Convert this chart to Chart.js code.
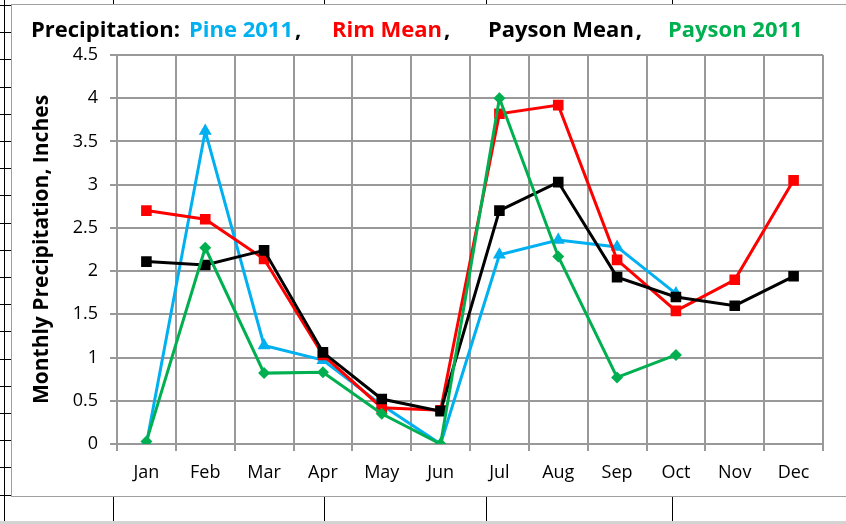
<!DOCTYPE html>
<html>
<head>
<meta charset="utf-8">
<script src="https://cdn.jsdelivr.net/npm/chart.js@4"></script>
<style>
  html, body { margin: 0; padding: 0; background: #fff; }
  #c { display: block; }
</style>
</head>
<body>
<canvas id="c" width="846" height="524"></canvas>
<script>
// --- Data ---
const months = ['Jan', 'Feb', 'Mar', 'Apr', 'May', 'Jun', 'Jul', 'Aug', 'Sep', 'Oct', 'Nov', 'Dec'];
const pine2011   = [0.00, 3.62, 1.14, 0.97, 0.45, 0.00, 2.19, 2.36, 2.28, 1.74, null, null];
const rimMean    = [2.70, 2.60, 2.14, 1.03, 0.42, 0.39, 3.82, 3.92, 2.13, 1.54, 1.90, 3.05];
const paysonMean = [2.11, 2.07, 2.24, 1.06, 0.52, 0.38, 2.70, 3.03, 1.93, 1.70, 1.60, 1.94];
const payson2011 = [0.03, 2.27, 0.82, 0.83, 0.35, 0.00, 4.00, 2.17, 0.77, 1.03, null, null];
const yMin = 0, yMax = 4.5, yStep = 0.5;

// title pieces: text, colour, and the comma that follows
const titleParts = [
    { text: 'Precipitation:', color: '#000000', after: '' },
    { text: 'Pine 2011', color: '#00B0F0', after: ',' },
    { text: 'Rim Mean', color: '#FF0000', after: ',' },
    { text: 'Payson Mean', color: '#000000', after: ',' },
    { text: 'Payson 2011', color: '#00B050', after: '' }
];

const FONT = "'Open Sans', sans-serif";
Chart.defaults.font.family = FONT;
Chart.defaults.color = '#000';

// spreadsheet cells behind the chart + chart frame + coloured title
const sheetPlugin = {
    id: 'sheet',
    beforeDraw(chart) {
        const { ctx, width, height } = chart;
        ctx.save();
        ctx.fillStyle = '#fff';
        ctx.fillRect(0, 0, width, height);

        ctx.strokeStyle = '#000';
        ctx.lineWidth = 1;
        ctx.beginPath();
        ctx.moveTo(4.5, 0); ctx.lineTo(4.5, 522);
        for (let y = 5; y < 522; y += 27.2) {
            const yy = Math.round(y) + 0.5;
            ctx.moveTo(0, yy); ctx.lineTo(12, yy);
        }
        [113, 324, 486, 672].forEach(x => {
            ctx.moveTo(x + 0.5, 0); ctx.lineTo(x + 0.5, 5);
            ctx.moveTo(x + 0.5, 497); ctx.lineTo(x + 0.5, 522);
        });
        ctx.stroke();

        ctx.fillStyle = '#d4d4d4';
        ctx.fillRect(0, 521, width, 3);

        // chart frame
        ctx.fillStyle = '#fff';
        ctx.fillRect(12, 5, width, 492);
        ctx.strokeStyle = '#a0a0a0';
        ctx.strokeRect(11.5, 4.5, width, 492);
        ctx.restore();
    },
    afterDraw(chart) {
        const { ctx } = chart;
        const starts = [31, 189, 332, 488, 668];
        ctx.save();
        ctx.font = `bold 22px ${FONT}`;
        ctx.textBaseline = 'middle';
        ctx.textAlign = 'left';
        titleParts.forEach((p, i) => {
            ctx.fillStyle = p.color;
            ctx.fillText(p.text, starts[i], 31);
            if (p.after) {
                ctx.fillStyle = '#000';
                ctx.fillText(p.after, starts[i] + ctx.measureText(p.text).width + 2, 31);
            }
        });
        ctx.restore();
    }
};

const gridColor = '#999999';

new Chart(document.getElementById('c'), {
    type: 'line',
    data: {
        labels: months,
        datasets: [
            {
                label: 'Payson 2011',
                data: payson2011,
                borderColor: '#00B050',
                backgroundColor: '#00B050',
                pointStyle: 'rectRot',
                pointRadius: 6,
                order: 0
            },
            {
                label: 'Payson Mean',
                data: paysonMean,
                borderColor: '#000000',
                backgroundColor: '#000000',
                pointStyle: 'rect',
                pointRadius: 7.5,
                order: 1
            },
            {
                label: 'Rim Mean',
                data: rimMean,
                borderColor: '#FF0000',
                backgroundColor: '#FF0000',
                pointStyle: 'rect',
                pointRadius: 7.5,
                order: 2
            },
            {
                label: 'Pine 2011',
                data: pine2011,
                borderColor: '#00B0F0',
                backgroundColor: '#00B0F0',
                pointStyle: 'triangle',
                pointRadius: 7.5,
                order: 3
            }
        ]
    },
    options: {
        responsive: false,
        animation: false,
        layout: { padding: { left: 12, right: 23, top: 55, bottom: 0 } },
        elements: {
            line: { borderWidth: 3, tension: 0 },
            point: { borderWidth: 0, hoverRadius: 7 }
        },
        scales: {
            x: {
                offset: true,
                grid: { offset: true, color: gridColor, lineWidth: 2, tickLength: 7 },
                border: { color: gridColor, width: 2 },
                ticks: { font: { size: 18 }, padding: 11, maxRotation: 0 },
                afterFit(scale) { scale.height = 80; }
            },
            y: {
                min: yMin,
                max: yMax,
                ticks: {
                    stepSize: yStep,
                    font: { size: 18 },
                    padding: 12,
                    callback: value => String(+value.toFixed(1))
                },
                grid: { color: gridColor, lineWidth: 2, tickLength: 7 },
                border: { color: gridColor, width: 2 },
                title: {
                    display: true,
                    text: 'Monthly Precipitation, Inches',
                    font: { size: 21, weight: 'bold' },
                    padding: { top: 17, bottom: 0 }
                },
                afterFit(scale) { scale.width = 105; }
            }
        },
        plugins: {
            legend: { display: false },
            title: { display: false },
            tooltip: { enabled: false }
        }
    },
    plugins: [sheetPlugin]
});
</script>
</body>
</html>
